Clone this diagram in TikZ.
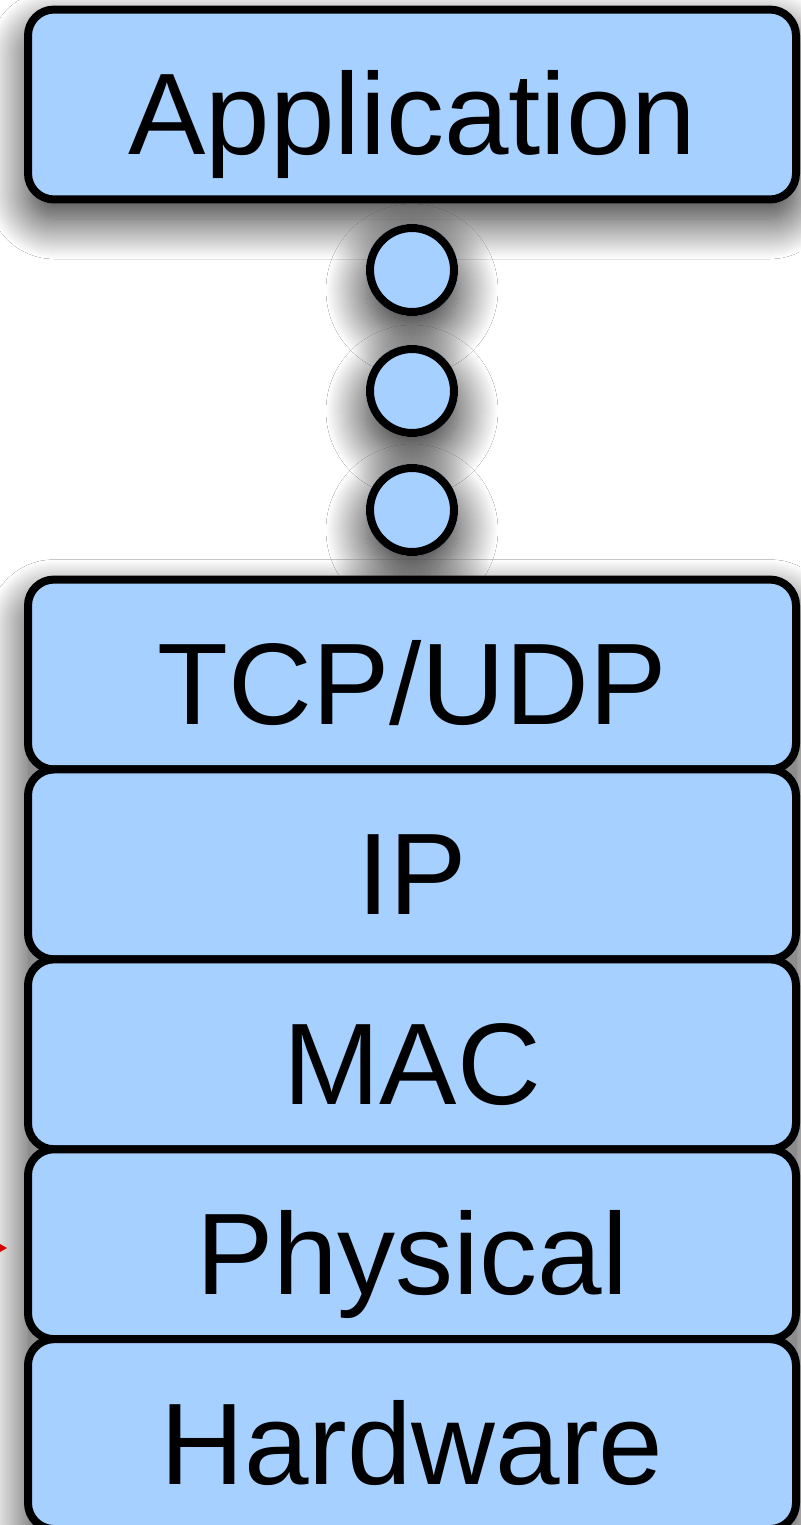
\documentclass[tikz,border=0pt]{standalone}
\usepackage{fontspec}
\setmainfont{Liberation Sans}
\usetikzlibrary{shadows.blur}
\definecolor{layerblue}{RGB}{166,208,255}
\begin{document}
\begin{tikzpicture}[x=1pt,y=-1pt,
  shd/.style={blur shadow={shadow xshift=0pt,shadow yshift=-20pt,shadow blur radius=40pt,shadow opacity=85,shadow blur steps=40}},
  layer/.style={draw=black,line width=8pt,fill=layerblue,rounded corners=26pt,
    minimum width=768pt,minimum height=189.9pt,inner sep=0pt,
    text height=100pt,text depth=0pt,font=\fontsize{116}{120}\selectfont},
  dot/.style={circle,draw=black,line width=8pt,fill=layerblue,minimum size=84pt,inner sep=0pt}]
\useasboundingbox (0,0) rectangle (800,1525);
\fill[white] (0,0) rectangle (800,1525);
% shadows (drawn first, below everything)
\begin{scope}
\path[shd,fill=layerblue,rounded corners=26pt] (28,10) rectangle (796,199);
\path[shd,fill=layerblue] (412,270) circle[radius=46];
\path[shd,fill=layerblue] (412,391) circle[radius=46];
\path[shd,fill=layerblue] (412,510) circle[radius=46];
\path[shd,fill=black!45,rounded corners=26pt] (28,579.5) rectangle (796,1529);
\end{scope}
% application
\node[layer] (app) at (412,104.5) {Application};
% dots
\node[dot] (d1) at (412,270) {};
\node[dot] (d2) at (412,391) {};
\node[dot] (d3) at (412,510) {};
% stack
\node[layer] (tcp) at (412,674.5) {TCP/UDP};
\node[layer] (ip)  at (412,864.4) {IP};
\node[layer] (mac) at (412,1054.3) {MAC};
\node[layer] (phy) at (412,1244.2) {Physical};
\node[layer] (hw)  at (412,1434.1) {Hardware};
% partial red arrow head at left edge
\coordinate (rt) at (7,1248);
\fill[red!85!black] (0,1244) -- (rt) -- (0,1252) -- cycle;
\end{tikzpicture}
\end{document}
